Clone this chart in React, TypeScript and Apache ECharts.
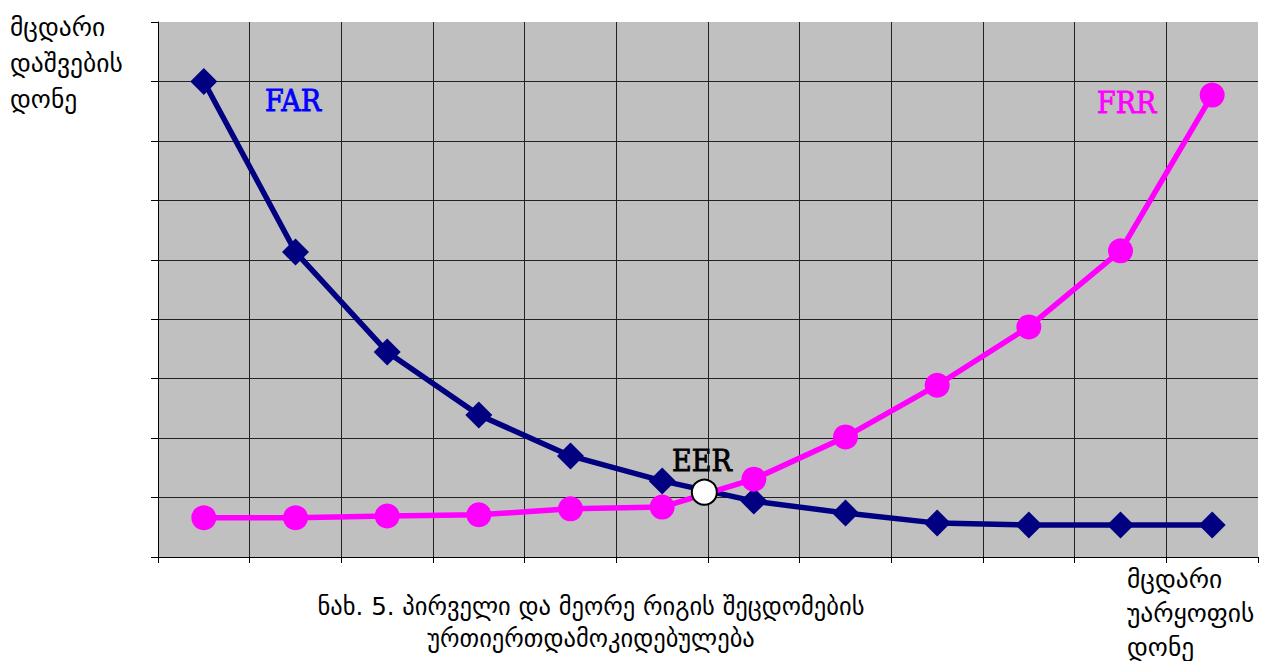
import React, { useEffect, useRef } from "react";
import * as echarts from "echarts";

const categories = ["1", "2", "3", "4", "5", "6", "7", "8", "9", "10", "11", "12"];
const xPositions = [0.5, 1.5, 2.5, 3.5, 4.5, 5.5, 6.5, 7.5, 8.5, 9.5, 10.5, 11.5];
const farValues = [8.0, 5.13, 3.45, 2.39, 1.7, 1.28, 0.94, 0.74, 0.57, 0.54, 0.54, 0.54];
const frrValues = [0.66, 0.66, 0.69, 0.71, 0.81, 0.84, 1.31, 2.02, 2.89, 3.87, 5.15, 7.77];
const eerPoint = [5.96, 1.09];
const yAxisTitle = ["მცდარი", "დაშვების", "დონე"];
const xAxisTitle = ["მცდარი", "უარყოფის", "დონე"];
const caption = ["ნახ. 5. პირველი და მეორე რიგის შეცდომების", "ურთიერთდამოკიდებულება"];

const geoFont = "'DejaVu Sans', sans-serif";
const latFont = "'DejaVu Serif', serif";

export default function App() {
  const ref = useRef<HTMLDivElement>(null);
  useEffect(() => {
    document.body.style.margin = "0";
    const chart = echarts.init(ref.current!, null, { renderer: "svg" });
    const lineText = (lines: string[], x: number, y: number, gap: number, align: string, size: number) =>
      lines.map((t, i) => ({
        type: "text",
        x,
        y: y + i * gap,
        style: {
          text: t,
          fontFamily: geoFont,
          fontSize: size,
          fill: "#000",
          textAlign: align,
          textVerticalAlign: "middle",
        },
      }));
    const latText = (t: string, x: number, y: number, color: string) => ({
      type: "text",
      x,
      y,
      scaleX: 0.9,
      z: 100,
      style: {
        text: t,
        fontFamily: latFont,
        fontSize: 30,
        fill: color,
        stroke: color,
        lineWidth: 0.9,
        textVerticalAlign: "middle",
      },
    });
    chart.setOption({
      animation: false,
      backgroundColor: "#fff",
      grid: {
        left: 158,
        top: 22,
        right: 8,
        bottom: 104,
        show: true,
        backgroundColor: "#c0c0c0",
        borderWidth: 0,
      },
      xAxis: {
        type: "value",
        min: 0,
        max: categories.length,
        interval: 1,
        axisLabel: { show: false },
        axisLine: { show: true, onZero: false, lineStyle: { color: "#000", width: 1 } },
        axisTick: { show: true, length: 6, lineStyle: { color: "#000" } },
        splitLine: { show: true, showMinLine: false, showMaxLine: false, lineStyle: { color: "#222", width: 1 } },
      },
      yAxis: {
        type: "value",
        min: 0,
        max: 9,
        interval: 1,
        axisLabel: { show: false },
        axisLine: { show: true, lineStyle: { color: "#000", width: 1 } },
        axisTick: { show: true, length: 7, lineStyle: { color: "#000" } },
        splitLine: { show: true, showMinLine: false, showMaxLine: false, lineStyle: { color: "#222", width: 1 } },
      },
      series: [
        {
          name: "FAR",
          type: "line",
          data: xPositions.map((x, i) => [x, farValues[i]]),
          symbol: "diamond",
          symbolSize: 27,
          lineStyle: { color: "#000080", width: 5.5 },
          itemStyle: { color: "#000080" },
          z: 2,
        },
        {
          name: "FRR",
          type: "line",
          data: xPositions.map((x, i) => [x, frrValues[i]]),
          symbol: "circle",
          symbolSize: 25,
          lineStyle: { color: "#ff00ff", width: 5.5 },
          itemStyle: { color: "#ff00ff" },
          z: 3,
        },
        {
          name: "EER",
          type: "scatter",
          data: [eerPoint],
          symbol: "circle",
          symbolSize: 25,
          itemStyle: { color: "#fff", borderColor: "#000", borderWidth: 2, opacity: 1 },
          z: 5,
        },
      ],
      graphic: [
        ...lineText(yAxisTitle, 10, 27, 36, "left", 25.5),
        ...lineText(xAxisTitle, 1127, 579, 34, "left", 25.5),
        ...lineText(caption, 591, 606, 32, "center", 24.5),
        latText("FAR", 265, 101, "#0000ff"),
        latText("FRR", 1097, 103, "#ff00ff"),
        latText("EER", 672, 461, "#000"),
      ],
    });
    return () => chart.dispose();
  }, []);
  return <div ref={ref} style={{ position: "absolute", left: 0, top: 0, width: 1266, height: 661 }} />;
}
